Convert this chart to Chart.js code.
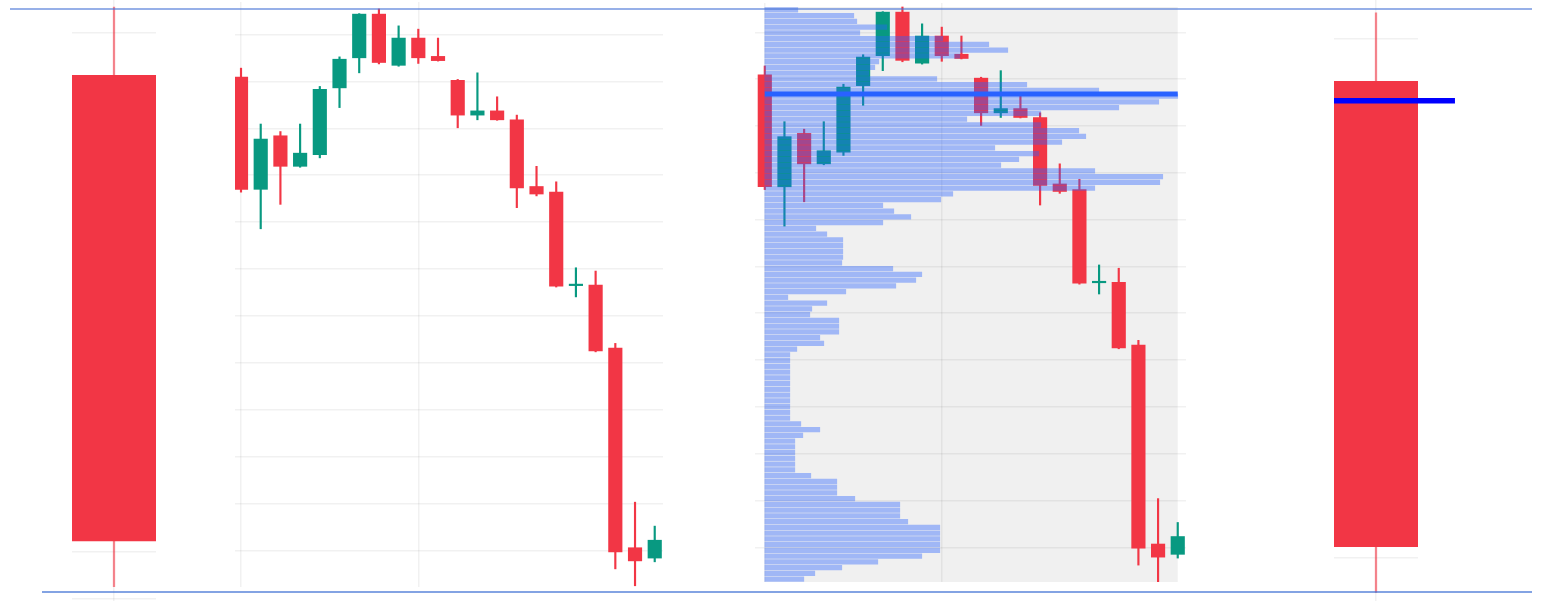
<!DOCTYPE html>
<html>
<head>
<meta charset="utf-8">
<script src="https://cdn.jsdelivr.net/npm/chart.js@4.4.1/dist/chart.umd.min.js"></script>
<style>
html,body{margin:0;padding:0;background:#ffffff;width:1545px;height:601px;overflow:hidden;}
canvas{position:absolute;display:block;}
</style>
</head>
<body>
<canvas id="aggL" width="84" height="601" style="left:72px;top:0px"></canvas>
<canvas id="mid" width="428" height="585" style="left:235px;top:2px"></canvas>
<canvas id="vp" width="431" height="579" style="left:755px;top:3px"></canvas>
<canvas id="aggR" width="126" height="601" style="left:1334px;top:0px"></canvas>
<canvas id="overlay" width="1545" height="601" style="left:0px;top:0px;pointer-events:none"></canvas>
<script>
// ---------------- DATA ----------------
const candleIndex = [0,1,2,3,4,5,6,7,8,9,10,11,12,13,14,15,16,17,18,19,20,21];
const openP  = [110.09,107.70,108.84,108.19,108.44,109.86,110.50,111.43,110.34,110.92,110.53,110.02,109.28,109.37,109.18,107.76,107.64,105.65,105.66,104.32,100.07,99.85];
const highP  = [110.28,109.09,108.93,109.09,109.89,110.52,111.44,111.54,111.18,111.11,110.92,110.04,110.18,109.67,109.28,108.19,107.86,106.03,105.96,104.42,101.04,100.53];
const lowP   = [107.64,106.86,107.38,108.17,108.37,109.44,110.18,110.37,110.32,110.38,110.43,109.01,109.18,109.17,107.31,107.56,105.62,105.41,104.24,99.62,99.26,99.77];
const closeP = [107.70,108.77,108.19,108.47,109.83,110.47,111.43,110.40,110.92,110.50,110.44,109.28,109.37,109.18,107.73,107.60,105.64,105.67,104.26,99.98,99.79,100.23];
// volume profile, 100 price bins, listed from the highest-price bin down to the lowest
const volumeProfile = [
  33, 89, 92,122, 95,178,224,243,195,114,
 110,104,172,262,334,413,394,354,276,202,
 276,314,321,297,230,274,254,236,330,398,
 395,330,188,176,118,129,146,118, 51, 62,
  78, 78, 78, 78, 77,128,157,151,131, 81,
  23, 62, 47, 45, 74, 74, 74, 55, 59, 32,
  25, 25, 25, 25, 25, 25, 25, 25, 25, 25,
  25, 25, 36, 55, 38, 30, 30, 30, 30, 30,
  30, 46, 72, 72, 72, 90,135,135,135,143,
 175,175,175,175,175,157,113, 77, 50, 39];
const pocPrice = 109.68;
const priceTicks = [99,100,101,102,103,104,105,106,107,108,109,110,111];
const timeTicks = [0, 9];
const aggTimeTicks = [0];

// ---------------- DERIVED ----------------
const RED = '#F23645', GREEN = '#089981';
const maxHigh = Math.max(...highP);
const minLow = Math.min(...lowP);
const nBins = volumeProfile.length;
const binSize = (maxHigh - minLow) / nBins;
const maxVol = Math.max(...volumeProfile);
const candleColor = candleIndex.map((_, k) => closeP[k] >= openP[k] ? GREEN : RED);
const aggOpen = openP[0], aggClose = closeP[closeP.length - 1];
const aggColor = aggClose >= aggOpen ? GREEN : RED;

Chart.defaults.animation = false;
Chart.defaults.events = [];
Chart.defaults.plugins.legend.display = false;
Chart.defaults.plugins.tooltip.enabled = false;

const GRID = 'rgba(0,0,0,0.055)';
function axis(min, max, ticks, showGrid) {
  return {
    type: 'linear', min, max, display: true, offset: false, beginAtZero: false,
    ticks: {display: false},
    grid: {display: showGrid, offset: false, drawTicks: false, color: GRID, lineWidth: 1.5},
    border: {display: false},
    afterBuildTicks: s => { s.ticks = ticks.map(v => ({value: v})); }
  };
}
function hiddenAxis(min, max, ax) {
  return {type: 'linear', axis: ax, min, max, display: false, offset: false, beginAtZero: false, grid: {offset: false}};
}

function candleDatasets(orderBase) {
  return [
    {
      type: 'bar', label: 'wick', grouped: false, order: orderBase + 1,
      data: candleIndex.map((i, k) => ({x: i, y: [lowP[k], highP[k]]})),
      backgroundColor: candleColor, barThickness: 1.5, borderWidth: 0
    },
    {
      type: 'bar', label: 'body', grouped: false, order: orderBase,
      data: candleIndex.map((i, k) => ({x: i, y: [openP[k], closeP[k]]})),
      backgroundColor: candleColor, barThickness: 13.5, minBarLength: 1.5, borderWidth: 0
    }
  ];
}

// ---------- left aggregate candle ----------
new Chart(document.getElementById('aggL'), {
  type: 'bar',
  data: {datasets: [
    {type: 'bar', grouped: false, order: 2, data: [{x: 0, y: [minLow, maxHigh]}],
     backgroundColor: 'rgba(242,54,69,0.6)', barThickness: 1.6, borderWidth: 0},
    {type: 'bar', grouped: false, order: 1, data: [{x: 0, y: [aggOpen, aggClose]}],
     backgroundColor: aggColor, barPercentage: 1, categoryPercentage: 1, borderWidth: 0}
  ]},
  options: {
    responsive: false, layout: {padding: 0},
    scales: {
      x: axis(-0.5, 0.5, aggTimeTicks, true),
      y: axis(98.955, 111.688, priceTicks, true)
    }
  }
});

// ---------- middle candlestick chart ----------
new Chart(document.getElementById('mid'), {
  type: 'bar',
  data: {datasets: candleDatasets(1)},
  options: {
    responsive: false, layout: {padding: 0},
    scales: {
      x: axis(-0.305, 21.42, timeTicks, true),
      y: axis(99.234, 111.688, priceTicks, true)
    }
  }
});

// ---------- volume profile panel ----------
const vpXMin = -0.498, vpXMax = 21.42;
const lastIdx = candleIndex[candleIndex.length - 1];
const grayBox = {
  id: 'grayBox',
  beforeDraw(chart) {
    const {ctx, scales} = chart;
    const x0 = scales.x.getPixelForValue(candleIndex[0]);
    const x1 = scales.x.getPixelForValue(lastIdx);
    const y0 = scales.y.getPixelForValue(maxHigh);
    const y1 = scales.y.getPixelForValue(minLow);
    ctx.save();
    ctx.fillStyle = '#f0f0f0';
    ctx.fillRect(x0, y0, x1 - x0, y1 - y0);
    ctx.restore();
  }
};
new Chart(document.getElementById('vp'), {
  type: 'bar',
  data: {datasets: [
    ...candleDatasets(2),
    {
      type: 'bar', label: 'volume', indexAxis: 'y', grouped: false, order: 1,
      xAxisID: 'xv', yAxisID: 'yv',
      data: volumeProfile.map((v, i) => ({y: maxHigh - (i + 0.5) * binSize, x: v})),
      backgroundColor: 'rgba(41,98,255,0.4)', barThickness: 4.5, borderWidth: 0
    },
    {
      type: 'line', label: 'poc', order: 0, xAxisID: 'xv', yAxisID: 'y',
      data: [{x: 0, y: pocPrice}, {x: maxVol, y: pocPrice}],
      borderColor: '#2962FF', borderWidth: 5, pointRadius: 0, borderCapStyle: 'butt', fill: false
    }
  ]},
  options: {
    responsive: false, layout: {padding: 0},
    scales: {
      x: axis(vpXMin, vpXMax, timeTicks, true),
      y: axis(99.259, 111.625, priceTicks, true),
      xv: hiddenAxis(maxVol * vpXMin / lastIdx, maxVol * vpXMax / lastIdx, 'x'),
      yv: hiddenAxis(99.259, 111.625, 'y')
    }
  },
  plugins: [grayBox]
});

// ---------- right aggregate candle ----------
new Chart(document.getElementById('aggR'), {
  type: 'bar',
  data: {datasets: [
    {type: 'bar', grouped: false, order: 2, data: [{x: 0, y: [minLow, maxHigh]}],
     backgroundColor: 'rgba(242,54,69,0.6)', barThickness: 1.6, borderWidth: 0},
    {type: 'bar', grouped: false, order: 1, data: [{x: 0, y: [aggOpen, aggClose]}],
     backgroundColor: aggColor, barPercentage: 1, categoryPercentage: 1, borderWidth: 0},
    {type: 'line', order: 0, clip: false,
     data: [{x: -0.5, y: pocPrice}, {x: 0.94, y: pocPrice}],
     borderColor: '#0000FF', borderWidth: 5.5, pointRadius: 0, borderCapStyle: 'butt', fill: false}
  ]},
  options: {
    responsive: false, layout: {padding: {left: 0, top: 0, bottom: 0, right: 42}},
    scales: {
      x: axis(-0.5, 0.5, aggTimeTicks, true),
      y: axis(99.080, 111.814, priceTicks, true)
    }
  }
});

// ---------- overlay: overall high / low range lines ----------
const span = (maxHigh - minLow) * 601 / 583;
const ovMax = maxHigh + span * 9 / 601;
new Chart(document.getElementById('overlay'), {
  type: 'line',
  data: {datasets: [
    {data: [{x: 10, y: maxHigh}, {x: 1532, y: maxHigh}], borderColor: 'rgba(70,115,215,0.75)', borderWidth: 1.6, pointRadius: 0, fill: false},
    {data: [{x: 42, y: minLow}, {x: 1532, y: minLow}], borderColor: 'rgba(60,110,210,0.85)', borderWidth: 1.6, pointRadius: 0, fill: false}
  ]},
  options: {
    responsive: false, layout: {padding: 0},
    scales: {
      x: {type: 'linear', min: 0, max: 1545, display: false},
      y: {type: 'linear', min: ovMax - span, max: ovMax, display: false}
    }
  }
});
</script>
</body>
</html>
